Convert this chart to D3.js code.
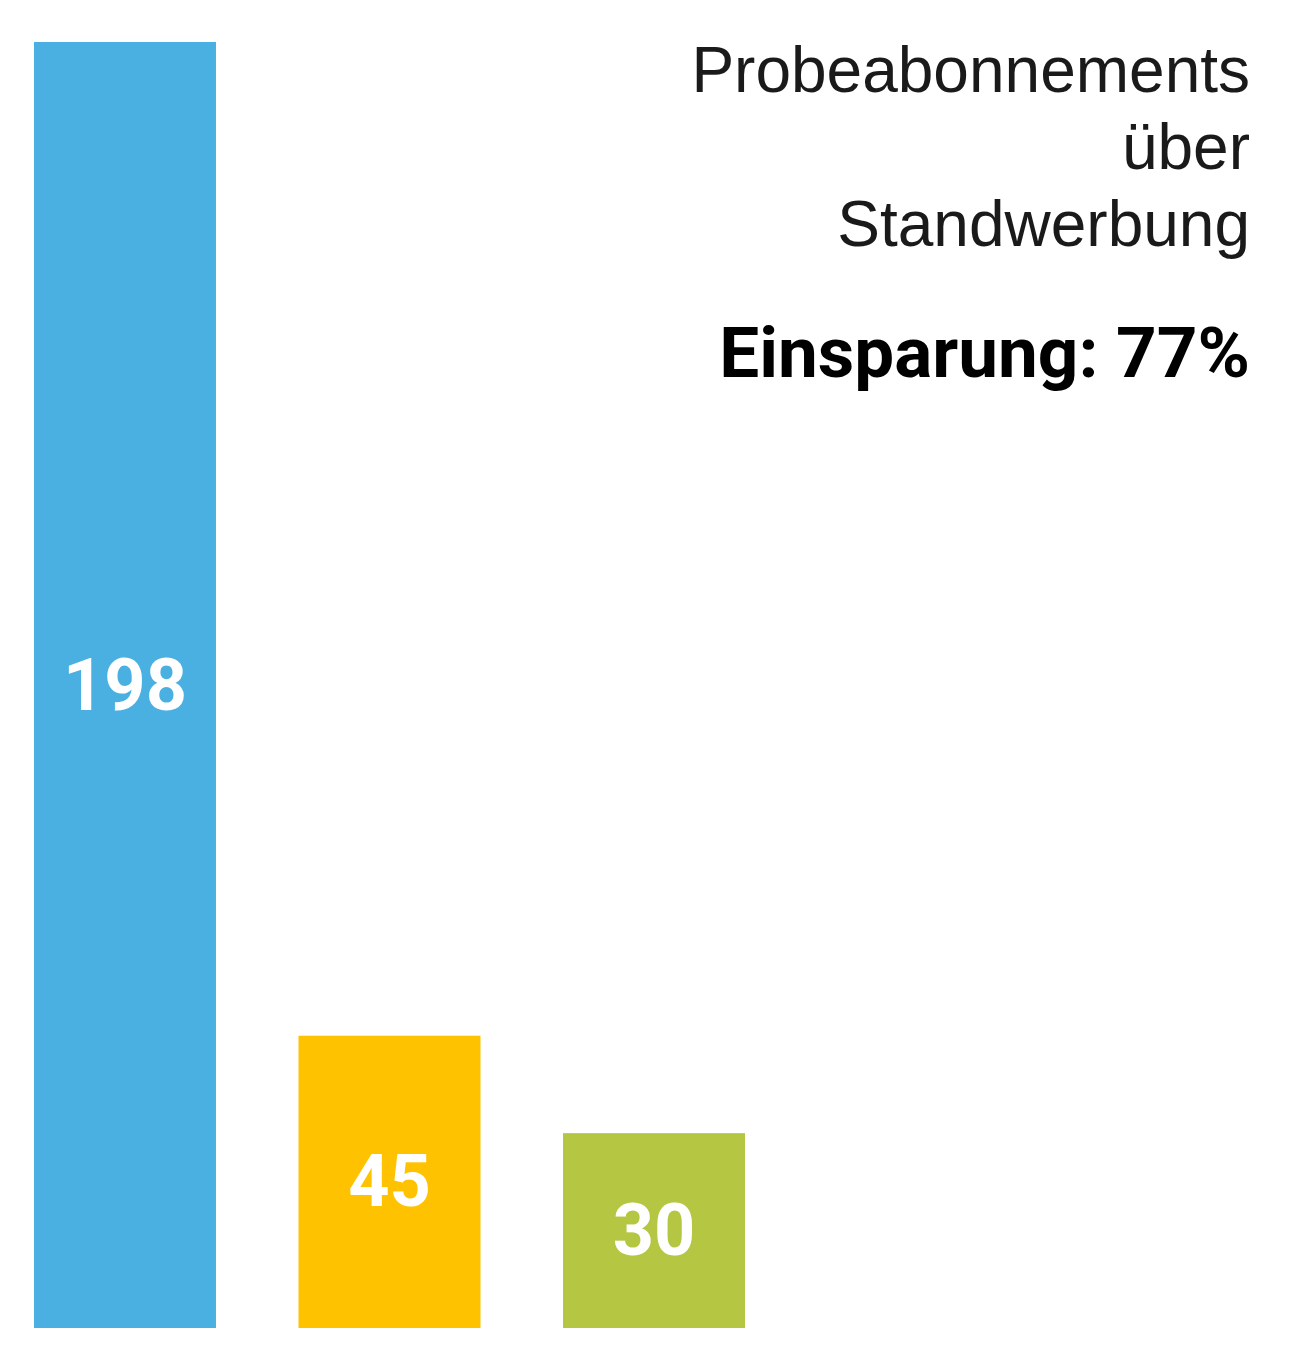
<!DOCTYPE html>
<html><head><meta charset="utf-8">
<script src="https://cdn.jsdelivr.net/npm/d3@7"></script>
<style>body{margin:0;background:#fff}</style>
</head><body>
<div class="chart"></div>
<script>
const width = 1290, height = 1354
const categories = ["A", "B", "C"]
const values = [198, 45, 30]
const colors = ["#49b0e1", "#ffc200", "#b5c643"]
const titleLines = ["Probeabonnements", "über", "Standwerbung"]
const subtitle = "Einsparung: 77%"

const svg = d3.select('.chart').append('svg')
    .attr('width', width).attr('height', height)

const x = d3.scaleBand().domain(categories).range([34, 745]).paddingInner(0.312).paddingOuter(0)
const y = d3.scaleLinear().domain([0, 198]).range([1328, 42])

const bars = svg.selectAll('g.bar').data(values).join('g').attr('class', 'bar')
bars.append('rect')
    .attr('x', (d, i) => x(categories[i]))
    .attr('y', d => y(d))
    .attr('width', x.bandwidth())
    .attr('height', d => y(0) - y(d))
    .attr('fill', (d, i) => colors[i])
bars.append('text')
    .attr('x', (d, i) => x(categories[i]) + x.bandwidth() / 2)
    .attr('y', d => (y(d) + y(0)) / 2)
    .attr('text-anchor', 'middle')
    .attr('dominant-baseline', 'central')
    .attr('font-family', 'Roboto')
    .attr('font-weight', 'bold')
    .attr('font-size', 72)
    .attr('fill', '#fff')
    .text(d => d)

// title block, right aligned
svg.selectAll('text.title').data(titleLines).join('text')
    .attr('class', 'title')
    .attr('x', 1250)
    .attr('y', (d, i) => 92 + i * 77)
    .attr('text-anchor', 'end')
    .attr('font-family', 'Liberation Sans, Arial')
    .attr('font-size', 64)
    .attr('fill', '#1a1a1a')
    .text(d => d)

svg.append('text')
    .attr('x', 1250).attr('y', 377)
    .attr('text-anchor', 'end')
    .attr('font-family', 'Roboto')
    .attr('font-weight', 'bold')
    .attr('font-size', 71)
    .attr('fill', '#000')
    .text(subtitle)
</script>
</body></html>
